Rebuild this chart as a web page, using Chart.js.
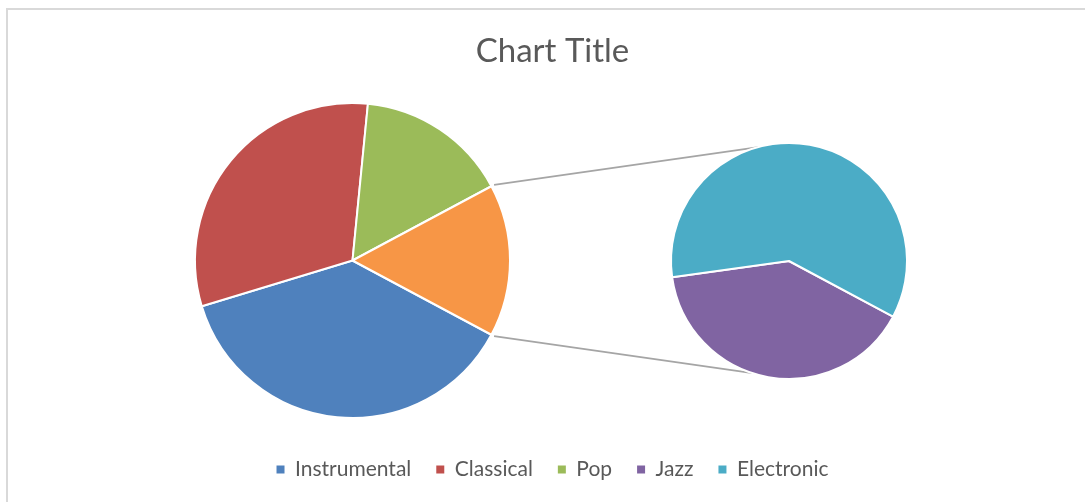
<!DOCTYPE html>
<html>
<head>
<meta charset="utf-8">
<title>Pie of pie</title>
<script src="https://cdn.jsdelivr.net/npm/chart.js@4.4.0/dist/chart.umd.min.js"></script>
<style>
  html, body { margin: 0; padding: 0; background: #fff; overflow: hidden; }
  #wrap { position: relative; width: 1085px; height: 502px; overflow: hidden; }
  #frame {
    position: absolute; left: 6px; top: 8px; width: 1200px; height: 600px;
    border-left: 2px solid #d9d9d9; border-top: 2px solid #d9d9d9;
  }
  canvas { position: absolute; left: 0; top: 0; }
</style>
</head>
<body>
<div id="wrap">
  <div id="frame"></div>
  <canvas id="mainPie" width="1085" height="502"></canvas>
  <canvas id="subPie" width="1085" height="502"></canvas>
</div>
<script>
var categories = ['Instrumental', 'Classical', 'Pop', 'Jazz', 'Electronic'];
var plays = [120, 100, 50, 20, 30];
var colors = ['#4F81BD', '#C0504D', '#9BBB59', '#8064A2', '#4BACC6'];
var otherColor = '#F79646';
var splitAt = 3; // everything from here on is broken out into the second pie

// main pie = first categories + one "Other" slice holding the rest
var subValues = plays.slice(splitAt);
var otherTotal = subValues.reduce(function (a, b) { return a + b; }, 0);
var mainValues = plays.slice(0, splitAt).concat([otherTotal]);
var mainLabels = categories.slice(0, splitAt).concat(['Other']);
var mainColors = colors.slice(0, splitAt).concat([otherColor]);
var total = plays.reduce(function (a, b) { return a + b; }, 0);

// "Other" sits centred on the right side, first slice starts right after it
var otherSweep = 360 * otherTotal / total;
var startAngle = 90 + otherSweep / 2;

// put the pie where we want it instead of the middle of the canvas
var placePie = {
    id: 'placePie',
    afterLayout: function (chart, args, opts) {
        chart.chartArea = {
            left: opts.x - opts.r, top: opts.y - opts.r,
            right: opts.x + opts.r, bottom: opts.y + opts.r,
            width: opts.r * 2, height: opts.r * 2
        };
    }
};

var mainChart = new Chart(document.getElementById('mainPie'), {
    type: 'pie',
    data: {
        labels: mainLabels,
        datasets: [{
            data: mainValues,
            backgroundColor: mainColors,
            borderColor: '#ffffff',
            borderWidth: 2
        }]
    },
    options: {
        responsive: false,
        animation: false,
        events: [],
        rotation: startAngle,
        layout: { padding: { left: 20, bottom: 12 } },
        plugins: {
            placePie: { x: 352.5, y: 260.5, r: 158.5 },
            title: {
                display: true,
                text: 'Chart Title',
                color: '#595959',
                font: { family: 'Lato', size: 33, weight: 'normal' },
                padding: { top: 32, bottom: 0 }
            },
            legend: {
                position: 'bottom',
                onClick: function () {},
                labels: {
                    boxWidth: 8,
                    boxHeight: 8,
                    padding: 25,
                    color: '#595959',
                    font: { family: 'Lato', size: 21 },
                    generateLabels: function () {
                        return categories.map(function (c, i) {
                            return {
                                text: c, fillStyle: colors[i], strokeStyle: colors[i],
                                fontColor: '#595959', lineWidth: 0, hidden: false, index: i
                            };
                        });
                    }
                }
            },
            tooltip: { enabled: false }
        }
    },
    plugins: [placePie]
});

// grey lines from the edges of the "Other" slice to the second pie
var connectors = {
    id: 'connectors',
    beforeDatasetsDraw: function (chart, args, opts) {
        var other = mainChart.getDatasetMeta(0).data[splitAt];
        var sub = chart.getDatasetMeta(0).data[0];
        var r0 = other.outerRadius + 3;
        var r1 = sub.outerRadius;
        var pairs = [[other.startAngle, opts.topAngle], [other.endAngle, opts.bottomAngle]];
        var ctx = chart.ctx;
        ctx.save();
        ctx.strokeStyle = '#a5a5a5';
        ctx.lineWidth = 1.8;
        pairs.forEach(function (p) {
            var a = p[1] * Math.PI / 180;
            ctx.beginPath();
            ctx.moveTo(other.x + Math.cos(p[0]) * r0, other.y + Math.sin(p[0]) * r0);
            ctx.lineTo(sub.x + Math.cos(a) * r1, sub.y + Math.sin(a) * r1);
            ctx.stroke();
        });
        ctx.restore();
    }
};

var subChart = new Chart(document.getElementById('subPie'), {
    type: 'pie',
    data: {
        labels: categories.slice(splitAt),
        datasets: [{
            data: subValues,
            backgroundColor: colors.slice(splitAt),
            borderColor: '#ffffff',
            borderWidth: 2
        }]
    },
    options: {
        responsive: false,
        animation: false,
        events: [],
        rotation: startAngle,
        plugins: {
            placePie: { x: 789, y: 261, r: 119 },
            connectors: { topAngle: -105, bottomAngle: 108 },
            legend: { display: false },
            title: { display: false },
            tooltip: { enabled: false }
        }
    },
    plugins: [placePie, connectors]
});
</script>
</body>
</html>
